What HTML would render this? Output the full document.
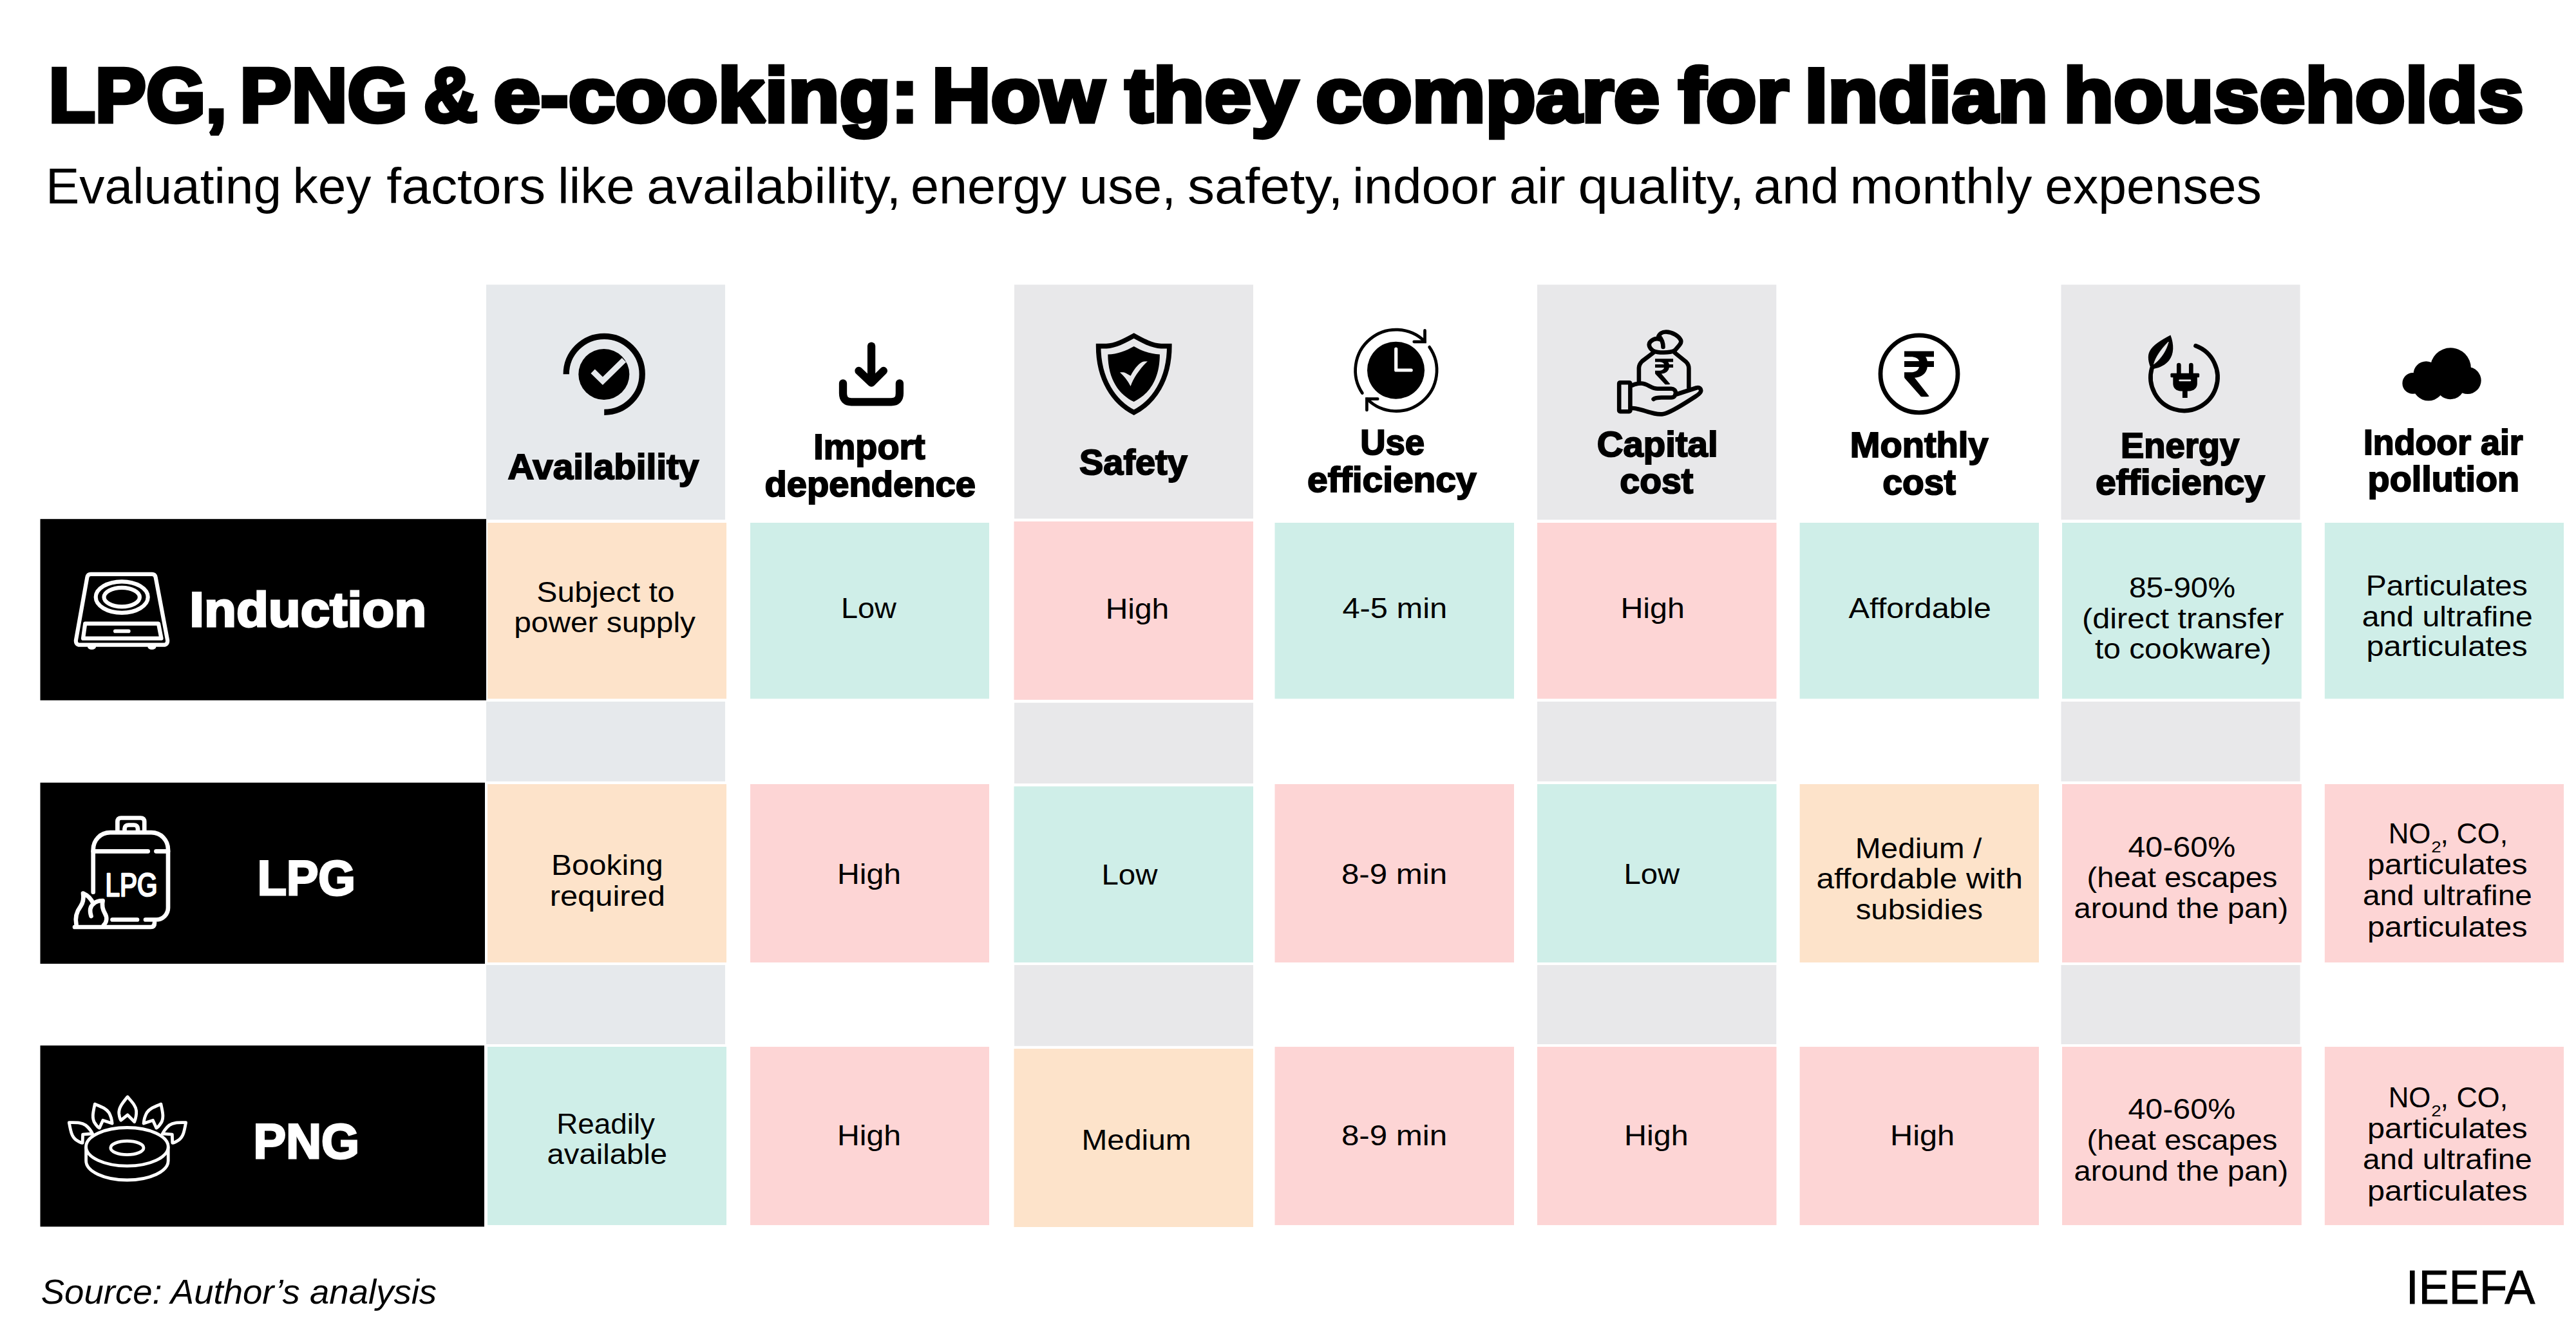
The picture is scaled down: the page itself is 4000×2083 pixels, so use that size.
<!DOCTYPE html>
<html><head><meta charset="utf-8"><title>LPG, PNG &amp; e-cooking</title>
<style>html,body{margin:0;padding:0;background:#fff;width:4000px;height:2083px;overflow:hidden}svg{display:block}</style>
</head><body>
<svg width="4000" height="2083" viewBox="0 0 4000 2083" font-family='"Liberation Sans", sans-serif'>
<rect width="4000" height="2083" fill="#fff"/>
<text x="75.4" y="188.6" font-size="119" font-weight="bold" fill="#000" stroke="#000" stroke-width="6.3" stroke-linejoin="miter" stroke-miterlimit="2" textLength="276.7" lengthAdjust="spacingAndGlyphs" >LPG,</text>
<text x="372.6" y="188.6" font-size="119" font-weight="bold" fill="#000" stroke="#000" stroke-width="6.3" stroke-linejoin="miter" stroke-miterlimit="2" textLength="260.4" lengthAdjust="spacingAndGlyphs" >PNG</text>
<text x="657.8" y="188.6" font-size="119" font-weight="bold" fill="#000" stroke="#000" stroke-width="6.3" stroke-linejoin="miter" stroke-miterlimit="2" textLength="83.9" lengthAdjust="spacingAndGlyphs" >&amp;</text>
<text x="766.5" y="188.6" font-size="119" font-weight="bold" fill="#000" stroke="#000" stroke-width="6.3" stroke-linejoin="miter" stroke-miterlimit="2" textLength="660.2" lengthAdjust="spacingAndGlyphs" >e-cooking:</text>
<text x="1447.0" y="188.6" font-size="119" font-weight="bold" fill="#000" stroke="#000" stroke-width="6.3" stroke-linejoin="miter" stroke-miterlimit="2" textLength="267.8" lengthAdjust="spacingAndGlyphs" >How</text>
<text x="1746.9" y="188.6" font-size="119" font-weight="bold" fill="#000" stroke="#000" stroke-width="6.3" stroke-linejoin="miter" stroke-miterlimit="2" textLength="268.6" lengthAdjust="spacingAndGlyphs" >they</text>
<text x="2043.2" y="188.6" font-size="119" font-weight="bold" fill="#000" stroke="#000" stroke-width="6.3" stroke-linejoin="miter" stroke-miterlimit="2" textLength="533.8" lengthAdjust="spacingAndGlyphs" >compare</text>
<text x="2606.3" y="188.6" font-size="119" font-weight="bold" fill="#000" stroke="#000" stroke-width="6.3" stroke-linejoin="miter" stroke-miterlimit="2" textLength="171.3" lengthAdjust="spacingAndGlyphs" >for</text>
<text x="2802.5" y="188.6" font-size="119" font-weight="bold" fill="#000" stroke="#000" stroke-width="6.3" stroke-linejoin="miter" stroke-miterlimit="2" textLength="377.6" lengthAdjust="spacingAndGlyphs" >Indian</text>
<text x="3204.3" y="188.6" font-size="119" font-weight="bold" fill="#000" stroke="#000" stroke-width="6.3" stroke-linejoin="miter" stroke-miterlimit="2" textLength="714.4" lengthAdjust="spacingAndGlyphs" >households</text>
<text x="71.1" y="316.0" font-size="77" font-weight="normal" fill="#000" textLength="365.9" lengthAdjust="spacingAndGlyphs" >Evaluating</text>
<text x="454.5" y="316.0" font-size="77" font-weight="normal" fill="#000" textLength="121.9" lengthAdjust="spacingAndGlyphs" >key</text>
<text x="600.3" y="316.0" font-size="77" font-weight="normal" fill="#000" textLength="246.8" lengthAdjust="spacingAndGlyphs" >factors</text>
<text x="865.9" y="316.0" font-size="77" font-weight="normal" fill="#000" textLength="119.6" lengthAdjust="spacingAndGlyphs" >like</text>
<text x="1004.3" y="316.0" font-size="77" font-weight="normal" fill="#000" textLength="395.1" lengthAdjust="spacingAndGlyphs" >availability,</text>
<text x="1413.9" y="316.0" font-size="77" font-weight="normal" fill="#000" textLength="242.2" lengthAdjust="spacingAndGlyphs" >energy</text>
<text x="1676.1" y="316.0" font-size="77" font-weight="normal" fill="#000" textLength="150.1" lengthAdjust="spacingAndGlyphs" >use,</text>
<text x="1844.0" y="316.0" font-size="77" font-weight="normal" fill="#000" textLength="241.7" lengthAdjust="spacingAndGlyphs" >safety,</text>
<text x="2099.9" y="316.0" font-size="77" font-weight="normal" fill="#000" textLength="224.1" lengthAdjust="spacingAndGlyphs" >indoor</text>
<text x="2343.4" y="316.0" font-size="77" font-weight="normal" fill="#000" textLength="87.3" lengthAdjust="spacingAndGlyphs" >air</text>
<text x="2450.4" y="316.0" font-size="77" font-weight="normal" fill="#000" textLength="258.3" lengthAdjust="spacingAndGlyphs" >quality,</text>
<text x="2723.0" y="316.0" font-size="77" font-weight="normal" fill="#000" textLength="132.7" lengthAdjust="spacingAndGlyphs" >and</text>
<text x="2872.4" y="316.0" font-size="77" font-weight="normal" fill="#000" textLength="282.9" lengthAdjust="spacingAndGlyphs" >monthly</text>
<text x="3175.3" y="316.0" font-size="77" font-weight="normal" fill="#000" textLength="336.4" lengthAdjust="spacingAndGlyphs" >expenses</text>
<rect x="755" y="442.2" width="371.0" height="365.1" fill="#E6E9EC"/>
<rect x="755" y="1089.8" width="371.0" height="123.9" fill="#E6E9EC"/>
<rect x="755" y="1499" width="371.0" height="123.0" fill="#E6E9EC"/>
<rect x="1575" y="442.2" width="371.0" height="363.4" fill="#E8E8EA"/>
<rect x="1575" y="1091.6" width="371.0" height="125.4" fill="#E8E8EA"/>
<rect x="1575" y="1499" width="371.0" height="125.8" fill="#E8E8EA"/>
<rect x="2387" y="442.2" width="371.3" height="365.1" fill="#E8E8EA"/>
<rect x="2387" y="1089.8" width="371.3" height="123.9" fill="#E8E8EA"/>
<rect x="2387" y="1499" width="371.3" height="123.0" fill="#E8E8EA"/>
<rect x="3200.5" y="442.2" width="371.0" height="365.1" fill="#E8E8EA"/>
<rect x="3200.5" y="1089.8" width="371.0" height="123.9" fill="#E8E8EA"/>
<rect x="3200.5" y="1499" width="371.0" height="123.0" fill="#E8E8EA"/>
<rect x="757" y="812" width="371.0" height="273.4" fill="#FDE3CA"/>
<rect x="1165" y="812" width="371.0" height="273.4" fill="#CFEEE8"/>
<rect x="1574.5" y="810" width="371.5" height="277.0" fill="#FDD5D5"/>
<rect x="1979.5" y="812" width="371.5" height="273.4" fill="#CFEEE8"/>
<rect x="2387" y="812" width="371.5" height="273.4" fill="#FDD5D5"/>
<rect x="2794.6" y="812" width="371.4" height="273.4" fill="#CFEEE8"/>
<rect x="3202" y="812" width="371.8" height="273.4" fill="#CFEEE8"/>
<rect x="3609.8" y="812" width="371.2" height="273.4" fill="#CFEEE8"/>
<rect x="757" y="1218" width="371.0" height="277.0" fill="#FDE3CA"/>
<rect x="1165" y="1218" width="371.0" height="277.0" fill="#FDD5D5"/>
<rect x="1574.5" y="1221.5" width="371.5" height="273.5" fill="#CFEEE8"/>
<rect x="1979.5" y="1218" width="371.5" height="277.0" fill="#FDD5D5"/>
<rect x="2387" y="1218" width="371.5" height="277.0" fill="#CFEEE8"/>
<rect x="2794.6" y="1218" width="371.4" height="277.0" fill="#FDE3CA"/>
<rect x="3202" y="1218" width="371.8" height="277.0" fill="#FDD5D5"/>
<rect x="3609.8" y="1218" width="371.2" height="277.0" fill="#FDD5D5"/>
<rect x="757" y="1626" width="371.0" height="277.0" fill="#CFEEE8"/>
<rect x="1165" y="1626" width="371.0" height="277.0" fill="#FDD5D5"/>
<rect x="1574.5" y="1629" width="371.5" height="277.0" fill="#FDE3CA"/>
<rect x="1979.5" y="1626" width="371.5" height="277.0" fill="#FDD5D5"/>
<rect x="2387" y="1626" width="371.5" height="277.0" fill="#FDD5D5"/>
<rect x="2794.6" y="1626" width="371.4" height="277.0" fill="#FDD5D5"/>
<rect x="3202" y="1626" width="371.8" height="277.0" fill="#FDD5D5"/>
<rect x="3609.8" y="1626" width="371.2" height="277.0" fill="#FDD5D5"/>
<rect x="62.5" y="806.2" width="692.5" height="281.6" fill="#000"/>
<rect x="62.5" y="1215.7" width="690.5" height="281.3" fill="#000"/>
<rect x="62.5" y="1624" width="689.5" height="281.4" fill="#000"/>
<text x="294.2" y="973.0" font-size="76" font-weight="bold" fill="#fff" stroke="#fff" stroke-width="3" stroke-linejoin="miter" stroke-miterlimit="2" textLength="368.1" lengthAdjust="spacingAndGlyphs" >Induction</text>
<text x="399.8" y="1389.9" font-size="76" font-weight="bold" fill="#fff" stroke="#fff" stroke-width="3" stroke-linejoin="miter" stroke-miterlimit="2" textLength="152.1" lengthAdjust="spacingAndGlyphs" >LPG</text>
<text x="393.6" y="1798.9" font-size="76" font-weight="bold" fill="#fff" stroke="#fff" stroke-width="3" stroke-linejoin="miter" stroke-miterlimit="2" textLength="164.3" lengthAdjust="spacingAndGlyphs" >PNG</text>
<text x="788.6" y="743.9" font-size="55" font-weight="bold" fill="#000" stroke="#000" stroke-width="2" stroke-linejoin="miter" stroke-miterlimit="2" textLength="296.7" lengthAdjust="spacingAndGlyphs" >Availability</text>
<text x="1263.3" y="713.4" font-size="55" font-weight="bold" fill="#000" stroke="#000" stroke-width="2" stroke-linejoin="miter" stroke-miterlimit="2" textLength="173.4" lengthAdjust="spacingAndGlyphs" >Import</text>
<text x="1187.6" y="770.9" font-size="55" font-weight="bold" fill="#000" stroke="#000" stroke-width="2" stroke-linejoin="miter" stroke-miterlimit="2" textLength="327.3" lengthAdjust="spacingAndGlyphs" >dependence</text>
<text x="1676.1" y="736.9" font-size="55" font-weight="bold" fill="#000" stroke="#000" stroke-width="2" stroke-linejoin="miter" stroke-miterlimit="2" textLength="167.7" lengthAdjust="spacingAndGlyphs" >Safety</text>
<text x="2112.2" y="705.7" font-size="55" font-weight="bold" fill="#000" stroke="#000" stroke-width="2" stroke-linejoin="miter" stroke-miterlimit="2" textLength="100.0" lengthAdjust="spacingAndGlyphs" >Use</text>
<text x="2030.1" y="763.8" font-size="55" font-weight="bold" fill="#000" stroke="#000" stroke-width="2" stroke-linejoin="miter" stroke-miterlimit="2" textLength="262.6" lengthAdjust="spacingAndGlyphs" >efficiency</text>
<text x="2479.7" y="709.0" font-size="55" font-weight="bold" fill="#000" stroke="#000" stroke-width="2" stroke-linejoin="miter" stroke-miterlimit="2" textLength="187.9" lengthAdjust="spacingAndGlyphs" >Capital</text>
<text x="2515.3" y="765.5" font-size="55" font-weight="bold" fill="#000" stroke="#000" stroke-width="2" stroke-linejoin="miter" stroke-miterlimit="2" textLength="114.0" lengthAdjust="spacingAndGlyphs" >cost</text>
<text x="2872.8" y="710.0" font-size="55" font-weight="bold" fill="#000" stroke="#000" stroke-width="2" stroke-linejoin="miter" stroke-miterlimit="2" textLength="214.7" lengthAdjust="spacingAndGlyphs" >Monthly</text>
<text x="2923.3" y="767.5" font-size="55" font-weight="bold" fill="#000" stroke="#000" stroke-width="2" stroke-linejoin="miter" stroke-miterlimit="2" textLength="113.6" lengthAdjust="spacingAndGlyphs" >cost</text>
<text x="3293.0" y="710.9" font-size="55" font-weight="bold" fill="#000" stroke="#000" stroke-width="2" stroke-linejoin="miter" stroke-miterlimit="2" textLength="184.2" lengthAdjust="spacingAndGlyphs" >Energy</text>
<text x="3254.0" y="768.0" font-size="55" font-weight="bold" fill="#000" stroke="#000" stroke-width="2" stroke-linejoin="miter" stroke-miterlimit="2" textLength="263.0" lengthAdjust="spacingAndGlyphs" >efficiency</text>
<text x="3669.9" y="705.9" font-size="55" font-weight="bold" fill="#000" stroke="#000" stroke-width="2" stroke-linejoin="miter" stroke-miterlimit="2" textLength="247.9" lengthAdjust="spacingAndGlyphs" >Indoor air</text>
<text x="3676.6" y="762.7" font-size="55" font-weight="bold" fill="#000" stroke="#000" stroke-width="2" stroke-linejoin="miter" stroke-miterlimit="2" textLength="235.5" lengthAdjust="spacingAndGlyphs" >pollution</text>
<text x="833.3" y="935.2" font-size="45" font-weight="normal" fill="#000" textLength="214.4" lengthAdjust="spacingAndGlyphs" >Subject to</text>
<text x="798.2" y="982.4" font-size="45" font-weight="normal" fill="#000" textLength="281.8" lengthAdjust="spacingAndGlyphs" >power supply</text>
<text x="1305.9" y="960.0" font-size="45" font-weight="normal" fill="#000" textLength="86.0" lengthAdjust="spacingAndGlyphs" >Low</text>
<text x="1716.7" y="960.7" font-size="45" font-weight="normal" fill="#000" textLength="98.6" lengthAdjust="spacingAndGlyphs" >High</text>
<text x="2084.4" y="960.0" font-size="45" font-weight="normal" fill="#000" textLength="162.8" lengthAdjust="spacingAndGlyphs" >4-5 min</text>
<text x="2516.4" y="960.0" font-size="45" font-weight="normal" fill="#000" textLength="99.6" lengthAdjust="spacingAndGlyphs" >High</text>
<text x="2870.6" y="960.0" font-size="45" font-weight="normal" fill="#000" textLength="221.2" lengthAdjust="spacingAndGlyphs" >Affordable</text>
<text x="3305.9" y="927.5" font-size="45" font-weight="normal" fill="#000" textLength="165.3" lengthAdjust="spacingAndGlyphs" >85-90%</text>
<text x="3233.0" y="975.6" font-size="45" font-weight="normal" fill="#000" textLength="313.4" lengthAdjust="spacingAndGlyphs" >(direct transfer</text>
<text x="3253.0" y="1022.8" font-size="45" font-weight="normal" fill="#000" textLength="273.9" lengthAdjust="spacingAndGlyphs" >to cookware)</text>
<text x="3673.7" y="925.3" font-size="45" font-weight="normal" fill="#000" textLength="251.1" lengthAdjust="spacingAndGlyphs" >Particulates</text>
<text x="3667.8" y="972.5" font-size="45" font-weight="normal" fill="#000" textLength="265.1" lengthAdjust="spacingAndGlyphs" >and ultrafine</text>
<text x="3674.4" y="1019.0" font-size="45" font-weight="normal" fill="#000" textLength="250.3" lengthAdjust="spacingAndGlyphs" >particulates</text>
<text x="856.1" y="1359.1" font-size="45" font-weight="normal" fill="#000" textLength="173.5" lengthAdjust="spacingAndGlyphs" >Booking</text>
<text x="853.7" y="1406.6" font-size="45" font-weight="normal" fill="#000" textLength="179.1" lengthAdjust="spacingAndGlyphs" >required</text>
<text x="1300.0" y="1373.1" font-size="45" font-weight="normal" fill="#000" textLength="99.1" lengthAdjust="spacingAndGlyphs" >High</text>
<text x="1710.5" y="1374.3" font-size="45" font-weight="normal" fill="#000" textLength="87.0" lengthAdjust="spacingAndGlyphs" >Low</text>
<text x="2082.9" y="1372.5" font-size="45" font-weight="normal" fill="#000" textLength="164.3" lengthAdjust="spacingAndGlyphs" >8-9 min</text>
<text x="2521.4" y="1373.1" font-size="45" font-weight="normal" fill="#000" textLength="86.8" lengthAdjust="spacingAndGlyphs" >Low</text>
<text x="2880.8" y="1333.0" font-size="45" font-weight="normal" fill="#000" textLength="196.4" lengthAdjust="spacingAndGlyphs" >Medium /</text>
<text x="2820.4" y="1380.2" font-size="45" font-weight="normal" fill="#000" textLength="320.6" lengthAdjust="spacingAndGlyphs" >affordable with</text>
<text x="2881.7" y="1428.4" font-size="45" font-weight="normal" fill="#000" textLength="197.2" lengthAdjust="spacingAndGlyphs" >subsidies</text>
<text x="3304.4" y="1331.4" font-size="45" font-weight="normal" fill="#000" textLength="166.8" lengthAdjust="spacingAndGlyphs" >40-60%</text>
<text x="3240.5" y="1378.0" font-size="45" font-weight="normal" fill="#000" textLength="295.9" lengthAdjust="spacingAndGlyphs" >(heat escapes</text>
<text x="3220.6" y="1426.1" font-size="45" font-weight="normal" fill="#000" textLength="332.5" lengthAdjust="spacingAndGlyphs" >around the pan)</text>
<text x="3675.9" y="1357.7" font-size="45" font-weight="normal" fill="#000" textLength="248.8" lengthAdjust="spacingAndGlyphs" >particulates</text>
<text x="3668.9" y="1406.1" font-size="45" font-weight="normal" fill="#000" textLength="262.9" lengthAdjust="spacingAndGlyphs" >and ultrafine</text>
<text x="3675.9" y="1454.6" font-size="45" font-weight="normal" fill="#000" textLength="248.8" lengthAdjust="spacingAndGlyphs" >particulates</text>
<text x="864.2" y="1761.4" font-size="45" font-weight="normal" fill="#000" textLength="152.8" lengthAdjust="spacingAndGlyphs" >Readily</text>
<text x="849.6" y="1808.3" font-size="45" font-weight="normal" fill="#000" textLength="186.4" lengthAdjust="spacingAndGlyphs" >available</text>
<text x="1300.0" y="1778.8" font-size="45" font-weight="normal" fill="#000" textLength="99.1" lengthAdjust="spacingAndGlyphs" >High</text>
<text x="1679.5" y="1785.6" font-size="45" font-weight="normal" fill="#000" textLength="170.1" lengthAdjust="spacingAndGlyphs" >Medium</text>
<text x="2082.9" y="1778.8" font-size="45" font-weight="normal" fill="#000" textLength="164.3" lengthAdjust="spacingAndGlyphs" >8-9 min</text>
<text x="2522.0" y="1779.4" font-size="45" font-weight="normal" fill="#000" textLength="99.6" lengthAdjust="spacingAndGlyphs" >High</text>
<text x="2935.0" y="1779.4" font-size="45" font-weight="normal" fill="#000" textLength="100.2" lengthAdjust="spacingAndGlyphs" >High</text>
<text x="3304.4" y="1737.7" font-size="45" font-weight="normal" fill="#000" textLength="166.8" lengthAdjust="spacingAndGlyphs" >40-60%</text>
<text x="3240.5" y="1785.8" font-size="45" font-weight="normal" fill="#000" textLength="295.9" lengthAdjust="spacingAndGlyphs" >(heat escapes</text>
<text x="3220.6" y="1833.7" font-size="45" font-weight="normal" fill="#000" textLength="332.5" lengthAdjust="spacingAndGlyphs" >around the pan)</text>
<text x="3675.9" y="1768.0" font-size="45" font-weight="normal" fill="#000" textLength="248.8" lengthAdjust="spacingAndGlyphs" >particulates</text>
<text x="3668.9" y="1816.3" font-size="45" font-weight="normal" fill="#000" textLength="262.9" lengthAdjust="spacingAndGlyphs" >and ultrafine</text>
<text x="3675.9" y="1864.6" font-size="45" font-weight="normal" fill="#000" textLength="248.8" lengthAdjust="spacingAndGlyphs" >particulates</text>
<text x="3708.7" y="1310.0" font-size="45" font-weight="normal" fill="#000" textLength="65.7" lengthAdjust="spacingAndGlyphs" >NO</text>
<text x="3775.3" y="1324.4" font-size="24" font-weight="normal" fill="#000" textLength="15.5" lengthAdjust="spacingAndGlyphs" >2</text>
<text x="3789.5" y="1310.0" font-size="45" font-weight="normal" fill="#000" textLength="104.6" lengthAdjust="spacingAndGlyphs" >, CO,</text>
<text x="3708.7" y="1719.7" font-size="45" font-weight="normal" fill="#000" textLength="65.7" lengthAdjust="spacingAndGlyphs" >NO</text>
<text x="3775.3" y="1734.1" font-size="24" font-weight="normal" fill="#000" textLength="15.5" lengthAdjust="spacingAndGlyphs" >2</text>
<text x="3789.5" y="1719.7" font-size="45" font-weight="normal" fill="#000" textLength="104.6" lengthAdjust="spacingAndGlyphs" >, CO,</text>
<text x="63.7" y="2025.0" font-size="54" font-weight="normal" fill="#000" font-style="italic" textLength="614.4" lengthAdjust="spacingAndGlyphs" >Source: Author’s analysis</text>
<text x="3736.0" y="2024.7" font-size="75" font-weight="normal" fill="#000" stroke="#000" stroke-width="1" stroke-linejoin="miter" stroke-miterlimit="2" textLength="200.3" lengthAdjust="spacingAndGlyphs" >IEEFA</text>
<!-- availability -->
<g transform="translate(860,500)">
  <path d="M19.2,81.3 A59,59 0 1 1 78.2,140.3" fill="none" stroke="#000" stroke-width="9.3"/>
  <circle cx="77.8" cy="81.4" r="39.5" fill="#000"/>
  <path d="M60.6,76.7 L75.9,91.8 L109,59.3" fill="none" stroke="#E6E9EC" stroke-width="9" stroke-linejoin="miter"/>
</g>
<!-- import dependence -->
<g transform="translate(1280,510)" fill="none" stroke="#000" stroke-width="12.3" stroke-linecap="round" stroke-linejoin="round">
  <path d="M73.1,27.6 V82"/>
  <path d="M53.5,66 L73.1,84.6 L91.9,66"/>
  <path d="M29,85.4 V101 Q29,114.3 42,114.3 H104 Q116.9,114.3 116.9,101 V85.4"/>
</g>
<!-- safety -->
<g transform="translate(1690,505)">
  <path d="M70.7,16.5 C55,25 42,32 28,32.6 L15.6,32.6 C15.6,85 40,120 70.7,135.7 C101.4,120 125.8,85 125.8,32.6 L113,32.6 C99,32 86,25 70.7,16.5 Z" fill="none" stroke="#000" stroke-width="7.6" stroke-linejoin="miter"/>
  <path d="M70.7,32.9 C58,40 45,45 30.3,45.4 C30.5,85 48,108 70.7,119 C93.4,108 110.9,85 110.9,45.4 C96,45 83,40 70.7,32.9 Z" fill="#000"/>
  <path d="M49,73.6 C53,73 56,73.5 58,74.5 L65.6,78.8 C72,66 80,58 86,56.5 L91.9,56.2 C80,68 70,82 65.6,95 C61,86 55,79 49,73.6 Z" fill="#E8E8EA"/>
</g>
<!-- use efficiency -->
<g transform="translate(2090,500)">
  <circle cx="77.5" cy="75.2" r="44.5" fill="#000"/>
  <path d="M77.7,42 V75 H101.2" fill="none" stroke="#fff" stroke-width="5.2" stroke-linecap="round" stroke-linejoin="round"/>
  <g fill="none" stroke="#000" stroke-width="4.7" stroke-linecap="round" stroke-linejoin="miter">
    <path d="M25.4,110.6 A63.2,63.2 0 0 1 122.4,30.5"/>
    <path d="M122.5,13.4 V30.8 H105.7"/>
    <path d="M129.6,39.1 A63.2,63.2 0 0 1 33,119.9"/>
    <path d="M49.2,119.7 H32.4 V137"/>
  </g>
</g>
<!-- capital cost -->
<g transform="translate(2490,500)">
  <g fill="none" stroke="#000" stroke-width="6.6" stroke-linecap="round" stroke-linejoin="round">
    <rect x="24.2" y="94.2" width="17.2" height="45" rx="1.5"/>
    <path d="M77.6,120 C80,118 84,117.5 90,117.5 H105 C109.5,117.5 112,114 112,110.5 C112,106.5 109,103.8 105,103.8 H84 C74,103.8 68,95.5 58.5,95.5 C52,95.5 48,97 44.7,98.5"/>
    <path d="M111.6,113 L144,102.5 C149,101 152,104 151,108 C150,111 147,113 144,115 C130,124 105,141 93,143 C83,145 70,140 60,137 C53,135 48,134 44.7,134"/>
    <path d="M54.9,94.5 V71.6 C54.9,67 57,64 60,61 L77.6,47.7"/>
    <path d="M110.4,47.7 L128,62 C131,65 132.4,68 132.4,72 V102"/>
    <path d="M77,45 C85,48.5 102,48.5 110.5,44.5"/>
    <path d="M77,45 C70,39.5 69,34 73.5,30 C78,26 83,25.5 87.5,27"/>
    <path d="M85,24 C86,18.5 91,15.5 97,15.5 C107,15.5 117,22 120,28.5 C121.5,32 119,35 110.5,44.5"/>
    <path d="M86,22 C90.5,27 92.5,33 92.5,39"/>
  </g>
  <path d="M0,0 H46 V8.7 H33 C34.5,10.5 35.5,13 35.8,15.4 H46 V24.3 H35.8 C34.5,34 27,40.5 16,41.2 L38.6,69.8 C36,70.8 29,71 25.8,70.5 L1.5,43 C0.5,42 0,41 0,39.5 V32.7 H10 C17,32.7 22,29.5 23,24.3 H0 V15.4 H23 C22,11 17,8.7 10,8.7 H0 Z" transform="translate(80,57.3) scale(0.61,0.565)"/>
</g>
<!-- monthly cost -->
<g transform="translate(2900,500)">
  <circle cx="80" cy="80.8" r="60" fill="none" stroke="#000" stroke-width="6.8"/>
  <path d="M0,0 H46 V8.7 H33 C34.5,10.5 35.5,13 35.8,15.4 H46 V24.3 H35.8 C34.5,34 27,40.5 16,41.2 L38.6,69.8 C36,70.8 29,71 25.8,70.5 L1.5,43 C0.5,42 0,41 0,39.5 V32.7 H10 C17,32.7 22,29.5 23,24.3 H0 V15.4 H23 C22,11 17,8.7 10,8.7 H0 Z" transform="translate(57,45.6)"/>
</g>
<!-- energy efficiency -->
<g transform="translate(3310,500)">
  <path d="M99.5,37.2 A52,52 0 1 1 31.4,71.9" fill="none" stroke="#000" stroke-width="6.7" stroke-linecap="round"/>
  <path d="M30.5,74 C26,63 24,53 28,45.5 C33,36 45,28.5 60.4,20.5 C66,35 66,50 58,60 C52,67 44,71 36,72.5 C34,73 32,74 31,76 Z" fill="#000"/>
  <path d="M34.5,65.6 C37,55 46,42 57.2,31 C54,44 46,57 34.5,65.6 Z" fill="#E8E8EA" stroke="#E8E8EA" stroke-width="0.8"/>
  <path d="M73.3,67 V81 M92.3,67 V81" fill="none" stroke="#000" stroke-width="6.7" stroke-linecap="round"/>
  <rect x="60.4" y="79.8" width="44.7" height="6.4" rx="1.5" fill="#000"/>
  <path d="M64.3,85 H101.8 V96 C101.8,103 96,107.4 89,107.4 H76.5 C69.5,107.4 64.3,103 64.3,96 Z" fill="#000"/>
  <rect x="78.9" y="106" width="7.8" height="12" fill="#000"/>
  <rect x="73.3" y="89.5" width="19" height="2.8" rx="1.4" fill="#E8E8EA"/>
</g>
<!-- indoor air pollution -->
<g transform="translate(3710,520)" fill="#000">
  <circle cx="95.3" cy="51.9" r="31.6"/>
  <circle cx="57.3" cy="60.9" r="19.7"/>
  <circle cx="36.7" cy="75.4" r="16.3"/>
  <circle cx="121.7" cy="71" r="21"/>
  <circle cx="60.9" cy="77.9" r="24.6"/>
  <circle cx="94.9" cy="77.9" r="22.3"/>
</g>
<!-- induction icon -->
<g transform="translate(100,870)" fill="none" stroke="#fff" stroke-width="6.2" stroke-linejoin="round" stroke-linecap="round">
  <path d="M41,21.8 H136 C139,21.8 141,23.5 141.6,26.5 L160,124 C160.8,128.5 158.5,131.7 154,131.7 H24 C19.5,131.7 17.2,128.5 18,124 L35.4,26.5 C36,23.5 38,21.8 41,21.8 Z"/>
  <ellipse cx="89.2" cy="57.6" rx="40.5" ry="24.3"/>
  <ellipse cx="89.2" cy="57.6" rx="27.7" ry="14.7"/>
  <path d="M32.2,98.7 H146 L150.5,121.7 H29 Z"/>
  <rect x="76" y="107.6" width="26.6" height="5.6" rx="2.8" fill="#fff" stroke="none"/>
  <ellipse cx="42.5" cy="135" rx="6.5" ry="4" fill="#fff" stroke="none"/>
  <ellipse cx="135.9" cy="135" rx="6.5" ry="4" fill="#fff" stroke="none"/>
</g>
<!-- LPG icon -->
<g transform="translate(100,1250)" fill="none" stroke="#fff" stroke-width="6.7" stroke-linecap="round" stroke-linejoin="round">
  <path d="M82.4,40 V26 C82.4,22.5 84.5,20.5 88,20.5 H118.5 C122,20.5 124.2,22.5 124.2,26 V40"/>
  <path d="M93.5,40 V37 C93.5,33.5 96,31.5 99.5,31.5 H108 C111.5,31.5 114,33.5 114,37 V40"/>
  <path d="M44.7,135.7 V70 C44.7,55 56,43.2 71,43.2 H135 C150,43.2 161,55 161,70 V160 C161,170 153,178.5 143,178.5 H126"/>
  <path d="M74.5,178.5 H113"/>
  <path d="M16,190 H134 C138,190 140,187.5 140,183"/>
  <path d="M44.7,72.3 H129.7 M142.4,72.3 H161"/>
  <path d="M18.5,186 C16.5,176 19,166 25,158 C30,151 30,144 29,137.5 C37,141 42,147 45,154 C49,150 54,149 59.6,149 C58,156 59,162 63,169 C66.5,175 66,182 61,187"/>
  <path d="M41.5,173 C39,165 40,158 45,154"/>
  <text x="63.5" y="142.4" font-size="50" font-weight="normal" fill="#fff" stroke="#fff" stroke-width="2.6" textLength="81" lengthAdjust="spacingAndGlyphs">LPG</text>
</g>
<!-- PNG icon -->
<g transform="translate(90,1690)" fill="none" stroke="#fff" stroke-width="4.8" stroke-linejoin="round">
  <path d="M0,0 C-8,10 -14,17 -13.2,26 C-12.5,32 -11.5,35 -10.2,36.4 L0,28.1 L10.7,38.8 C13,33 14,28 13.7,22 C13,14 7,8 0,0 Z" transform="translate(108,13.7)"/>
  <path d="M0,0 C-8,10 -14,17 -13.2,26 C-12.5,32 -11.5,35 -10.2,36.4 L0,28.1 L10.7,38.8 C13,33 14,28 13.7,22 C13,14 7,8 0,0 Z" transform="translate(57.3,25) rotate(-26.4)"/>
  <path d="M0,0 C-8,10 -14,17 -13.2,26 C-12.5,32 -11.5,35 -10.2,36.4 L0,28.1 L10.7,38.8 C13,33 14,28 13.7,22 C13,14 7,8 0,0 Z" transform="translate(17.3,53.7) rotate(-49.1)"/>
  <path d="M0,0 C-8,10 -14,17 -13.2,26 C-12.5,32 -11.5,35 -10.2,36.4 L0,28.1 L10.7,38.8 C13,33 14,28 13.7,22 C13,14 7,8 0,0 Z" transform="translate(159.9,25) rotate(26.4) scale(-1,1)"/>
  <path d="M0,0 C-8,10 -14,17 -13.2,26 C-12.5,32 -11.5,35 -10.2,36.4 L0,28.1 L10.7,38.8 C13,33 14,28 13.7,22 C13,14 7,8 0,0 Z" transform="translate(198.6,53.7) rotate(49.1) scale(-1,1)"/>
  <path d="M43.6,91.3 V113 A63.8,30 0 0 0 171.2,113 V91.3" fill="#000"/>
  <ellipse cx="107.4" cy="91.3" rx="63.8" ry="29.8" fill="#000"/>
  <ellipse cx="107.4" cy="93" rx="25.6" ry="10.7"/>
</g>

</svg>
</body></html>
